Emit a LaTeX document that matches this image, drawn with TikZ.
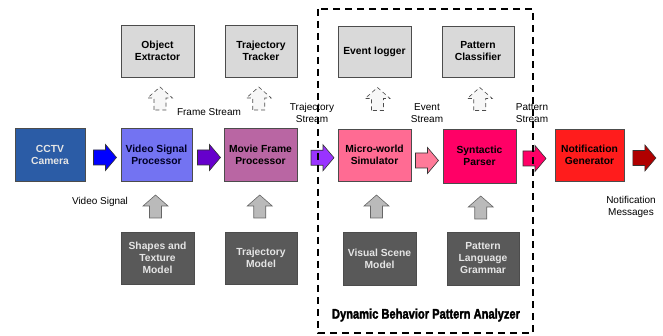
\documentclass[tikz,border=0pt]{standalone}
\usepackage{fontspec}
\setmainfont{Liberation Sans}
\newfontfamily\titlefont{Liberation Sans}[FakeBold=2.5]
\usetikzlibrary{calc}
\definecolor{cctvc}{HTML}{2B5CA6}
\definecolor{vspc}{HTML}{7373F2}
\definecolor{mfpc}{HTML}{B966A3}
\definecolor{mwsc}{HTML}{FF6B93}
\definecolor{spc}{HTML}{FF0066}
\definecolor{ngc}{HTML}{FF1C1C}
\definecolor{upc}{HTML}{D9D9D9}
\definecolor{lowc}{HTML}{595959}
\definecolor{aone}{HTML}{0000FF}
\definecolor{atwo}{HTML}{6600CC}
\definecolor{athree}{HTML}{9933FF}
\definecolor{afour}{HTML}{FF7A99}
\definecolor{afive}{HTML}{FF0066}
\definecolor{asix}{HTML}{B00000}
\tikzset{
  box/.style={draw=black!70, line width=0.8pt, minimum width=72pt, minimum height=52pt,
    inner sep=1pt, align=center, font=\fontsize{10.3}{12}\selectfont\bfseries},
  upbox/.style={box, fill=upc, text=black},
  lowbox/.style={box, fill=lowc, text=white!90!black},
  lbl/.style={inner sep=0pt, align=center, font=\fontsize{10}{12}\selectfont},
  rarr/.style={line width=0.6pt, line join=miter},
  uarrA/.style={fill=white!97!black, draw=black!70, line width=0.6pt, dash pattern=on 4pt off 3pt},
  uarrB/.style={fill=black!27, draw=black!60, line width=0.6pt},
  container/.style={draw=black, line width=1.1pt, dash pattern=on 7pt off 5pt}
}
\newcommand\rarrow[3]{\draw[rarr, fill=#2, draw=#3] ($#1+(-11.5,-7.5)$) -- ++(12,0) -- ++(0,-5.5) -- ++(11,13) -- ++(-11,13) -- ++(0,-5.5) -- ++(-12,0) -- cycle;}
\newcommand\uarrow[2]{\draw[#2] ($#1+(-6,11.5)$) -- ++(0,-12) -- ++(-6.5,0) -- ++(12.5,-11) -- ++(12.5,11) -- ++(-6.5,0) -- ++(0,12) -- cycle;}
\begin{document}
\begin{tikzpicture}[x=1pt,y=-1pt]
\useasboundingbox (0,0) rectangle (663,336);
% main row
\node[box, fill=cctvc, text=white!90!black, minimum width=70pt, minimum height=53pt] (cctv) at (50,154.5) {CCTV\\Camera};
\node[box, fill=vspc, text=black!85!blue, minimum width=71pt, minimum height=53pt] (vsp) at (156.5,154.5) {Video Signal\\Processor};
\node[box, fill=mfpc, text=black, minimum width=73pt, minimum height=53pt] (mfp) at (260.5,154.5) {Movie Frame\\Processor};
\node[box, fill=mwsc, text=black, minimum width=73pt, minimum height=52pt] (mws) at (374.5,155) {Micro-world\\Simulator};
\node[box, fill=spc, text=black, minimum width=73pt, minimum height=54pt] (sp) at (479.5,156) {Syntactic\\Parser};
\node[box, fill=ngc, text=black, minimum width=69pt, minimum height=52pt] (ng) at (589.5,155) {Notification\\Generator};
% upper row
\node[upbox, minimum width=73pt] (oe) at (157.5,51) {Object\\Extractor};
\node[upbox] (tt) at (261,51) {Trajectory\\Tracker};
\node[upbox, minimum width=73pt, minimum height=51pt] (el) at (374.5,51.5) {Event logger};
\node[upbox, minimum height=51pt] (pc) at (478,51.5) {Pattern\\Classifier};
% lower row
\node[lowbox, minimum width=73pt] (stm) at (157.5,258) {Shapes and\\Texture\\Model};
\node[lowbox] (tm) at (261,258) {Trajectory\\Model};
\node[lowbox, minimum width=73pt, minimum height=53pt] (vsm) at (379.5,258.5) {Visual Scene\\Model};
\node[lowbox, minimum height=53pt] (plg) at (483,258.5) {Pattern\\Language\\Grammar};
% labels
\node[lbl] (lfs) at (209,112) {Frame Stream};
\node[lbl] (lts) at (312,113) {Trajectory\\Stream};
\node[lbl] (les) at (427,113) {Event\\Stream};
\node[lbl] (lps) at (532,113) {Pattern\\Stream};
\node[lbl] (lvs) at (100,202) {Video Signal};
\node[lbl] (lnm) at (631,207) {Notification\\Messages};
% right block arrows
\coordinate (r1) at ($(cctv.east)!0.5!(vsp.west)+(2,3)$);
\coordinate (r2) at ($(vsp.east)!0.5!(mfp.west)+(1,3)$);
\coordinate (r3) at ($(mfp.east)!0.5!(mws.west)+(5,3)$);
\coordinate (r4) at ($(mws.east)!0.5!(sp.west)+(0,5)$);
\coordinate (r5) at ($(sp.east)!0.5!(ng.west)+(-1,3)$);
\coordinate (r6) at ($(ng.east)+(20,3)$);
\rarrow{(r1)}{aone}{black!80}
\rarrow{(r2)}{atwo}{black!80}
\rarrow{(r3)}{athree}{black!80}
\rarrow{(r4)}{afour}{black!80}
\rarrow{(r5)}{afive}{black!80}
\rarrow{(r6)}{asix}{black!80}
% upward arrows to upper row
\coordinate (u1) at ($(vsp.north)!0.5!(oe.south)+(3,-4)$);
\coordinate (u2) at ($(mfp.north)!0.5!(tt.south)+(-2,-4)$);
\coordinate (u3) at ($(mws.north)!0.5!(el.south)+(3,-4)$);
\coordinate (u4) at ($(sp.north)!0.5!(pc.south)+(1,-4)$);
\uarrow{(u1)}{uarrA}
\uarrow{(u2)}{uarrA}
\uarrow{(u3)}{uarrA}
\uarrow{(u4)}{uarrA}
% upward arrows from lower row
\coordinate (d1) at ($(stm.north)!0.5!(vsp.south)+(-1.5,0)$);
\coordinate (d2) at ($(tm.north)!0.5!(mfp.south)+(-1,0)$);
\coordinate (d3) at ($(vsm.north)!0.5!(mws.south)+(-0.5,0)$);
\coordinate (d4) at ($(plg.north)!0.5!(sp.south)+(-0.5,0)$);
\uarrow{(d1)}{uarrB}
\uarrow{(d2)}{uarrB}
\uarrow{(d3)}{uarrB}
\uarrow{(d4)}{uarrB}
% container
\draw[container] (318,9) rectangle (533,333);
\node[inner sep=0pt] (dbpa) at (426,315) {\resizebox{188pt}{10pt}{\titlefont\bfseries Dynamic Behavior Pattern Analyzer}};
\end{tikzpicture}
\end{document}
